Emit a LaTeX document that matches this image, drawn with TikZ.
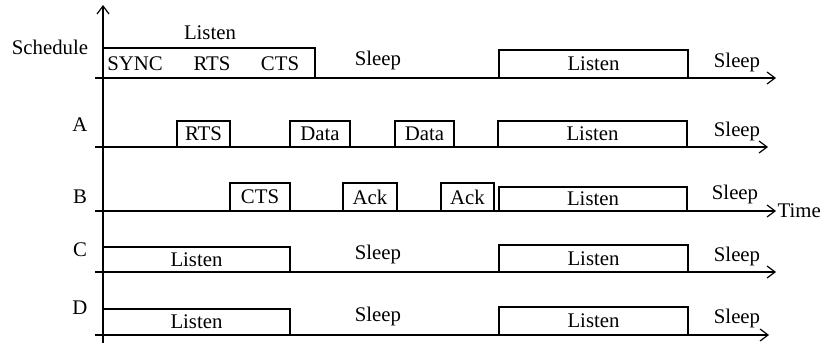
\documentclass[tikz,border=0pt]{standalone}
\usepackage{fontspec}
\setmainfont{Liberation Serif}
\usetikzlibrary{arrows.meta, positioning}
\tikzset{%
	axis/.style={line width=0.6pt, -{Straight Barb[length=4pt, width=6pt]}},
	slot/.style={draw, line width=0.6pt},
	lbl/.style={inner sep=0pt, font=\fontsize{10.4}{12}\selectfont}
}

\begin{document}
\begin{tikzpicture}[x=0.5pt, y=-0.5pt]
	\useasboundingbox (0,0) rectangle (823,343);

	% time axis and lines
	\draw[axis] (103,343) -- (103,5);
	\draw[axis] (95,78)  -- (776,78);
	\draw[axis] (95,147) -- (768,147);
	\draw[axis] (95,211) -- (776,211) node[lbl, right=0.5pt] (time) {Time};
	\draw[axis] (95,272) -- (776,272);
	\draw[axis] (95,335) -- (769,335);

	% schedule
	\node[lbl] (sched) at (50,47) {Schedule};
	\node[lbl] (slisten) at (210,33) {Listen};
	\draw[slot] (103,78) rectangle (315,48);
	\node[lbl] (sync) at (135,64) {SYNC};
	\node[lbl] (srts) at (212,64) {RTS};
	\node[lbl] (scts) at (280,64) {CTS};
	\node[lbl] (ssleep1) at (378,60) {Sleep};
	\draw[slot] (499,78) rectangle node[lbl] (slisten2) {Listen} (688,50);
	\node[lbl] (ssleep2) at (737,62) {Sleep};

	% node A
	\node[lbl] (a) at (80,125) {A};
	\draw[slot] (177,147) rectangle node[lbl] (arts) {RTS} (230,121);
	\draw[slot] (290,147) rectangle node[lbl] (adata1) {Data} (350,121);
	\draw[slot] (395,147) rectangle node[lbl] (adata2) {Data} (454,121);
	\draw[slot] (498,147) rectangle node[lbl] (alisten) {Listen} (687,121);
	\node[lbl] (asleep) at (737,131) {Sleep};

	% node B
	\node[lbl] (b) at (80,197) {B};
	\draw[slot] (230,211) rectangle node[lbl] (bcts) {CTS} (290,183);
	\draw[slot] (343,211) rectangle node[lbl] (back1) {Ack} (397,183);
	\draw[slot] (441,211) rectangle node[lbl] (back2) {Ack} (494,183);
	\draw[slot] (499,211) rectangle node[lbl] (blisten) {Listen} (687,187);
	\node[lbl] (bsleep) at (735,194) {Sleep};

	% node C
	\node[lbl] (c) at (80,250) {C};
	\draw[slot] (103,272) rectangle node[lbl] (clisten1) {Listen} (290,247);
	\node[lbl] (csleep1) at (378,254) {Sleep};
	\draw[slot] (499,272) rectangle node[lbl] (clisten2) {Listen} (688,245);
	\node[lbl] (csleep2) at (737,256) {Sleep};

	% node D
	\node[lbl] (d) at (80,308) {D};
	\draw[slot] (103,335) rectangle node[lbl] (dlisten1) {Listen} (290,309);
	\node[lbl] (dsleep1) at (378,316) {Sleep};
	\draw[slot] (499,335) rectangle node[lbl] (dlisten2) {Listen} (688,307);
	\node[lbl] (dsleep2) at (737,318) {Sleep};
\end{tikzpicture}
\end{document}
